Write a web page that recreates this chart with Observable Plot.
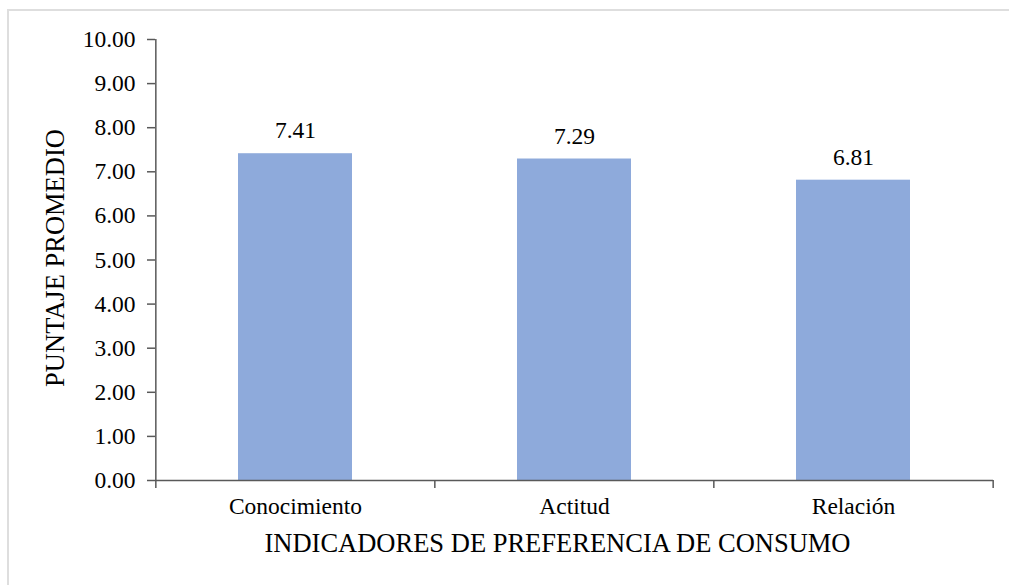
<!DOCTYPE html>
<html>
<head>
<meta charset="utf-8">
<script src="https://cdn.jsdelivr.net/npm/d3@7"></script>
<script src="https://cdn.jsdelivr.net/npm/@observablehq/plot@0.6"></script>
<style>
  html, body { margin: 0; padding: 0; background: #fff; }
  #wrap { position: relative; width: 1009px; height: 585px; overflow: hidden; }
  #border { position: absolute; left: 7px; top: 9px; width: 1100px; height: 700px;
            border-top: 2px solid #dedede; border-left: 2px solid #dedede; }
  #chart { position: absolute; left: 0; top: 0; }
  #chart svg text { font-family: 'Liberation Serif', 'Times New Roman', serif; }
</style>
</head>
<body>
<div id="wrap"><div id="border"></div><div id="chart"></div></div>
<script>
const categories = ["Conocimiento", "Actitud", "Relación"];
const values = [7.41, 7.29, 6.81];
const yTicks = [0, 1, 2, 3, 4, 5, 6, 7, 8, 9, 10];
const xTitle = "INDICADORES DE PREFERENCIA DE CONSUMO";
const yTitle = "PUNTAJE PROMEDIO";

const data = categories.map((c, i) => ({categoria: c, puntaje: values[i]}));

const W = 1009, H = 585, mL = 155, mR = 16, mT = 39, mB = 105;
const step = (W - mL - mR) / categories.length;
const axisColor = "#595959";
const font = "'Liberation Serif', 'Times New Roman', serif";

const chart = Plot.plot({
  width: W, height: H,
  marginLeft: mL, marginRight: mR, marginTop: mT, marginBottom: mB,
  style: {fontFamily: font, color: "#000", background: "transparent", overflow: "visible"},
  x: {domain: categories, paddingInner: 0.59, paddingOuter: 0.295},
  y: {domain: [0, 10]},
  marks: [
    Plot.barY(data, {x: "categoria", y: "puntaje", fill: "#8eaadb"}),
    Plot.ruleY([0], {stroke: axisColor, strokeWidth: 1.5}),
    Plot.ruleX([categories[0]], {x: d => d, dx: -step / 2, y1: 0, y2: 10, stroke: axisColor, strokeWidth: 1.5}),
    Plot.ruleX(categories, {x: d => d, dx: -step / 2, y1: 0, y2: 0, insetBottom: -8, stroke: axisColor, strokeWidth: 1.5}),
    Plot.ruleX([categories[categories.length - 1]], {x: d => d, dx: step / 2, y1: 0, y2: 0, insetBottom: -8, stroke: axisColor, strokeWidth: 1.5}),
    Plot.axisY({ticks: yTicks, tickFormat: d => d.toFixed(2), tickSize: 8, tickPadding: 12, fontSize: 23.5, fontFamily: font, fontVariant: "normal", stroke: axisColor, strokeWidth: 1.5, fill: "#000", label: null}),
    Plot.axisX({tickSize: 0, tickPadding: 17, fontSize: 23.5, fontFamily: font, fill: "#000", label: null}),
    Plot.text(data, {x: "categoria", y: "puntaje", text: d => d.puntaje.toFixed(2), dy: -23, fontSize: 23.5, fontFamily: font, fill: "#000"}),
    Plot.text([xTitle], {frameAnchor: "bottom", textAnchor: "middle", dx: -17, dy: 71, fontSize: 26.5, fontFamily: font, fill: "#000"}),
    Plot.text([yTitle], {frameAnchor: "left", textAnchor: "middle", dx: -100, dy: -2, rotate: -90, fontSize: 26.5, fontFamily: font, fill: "#000"})
  ]
});
document.getElementById("chart").appendChild(chart);
</script>
</body>
</html>
